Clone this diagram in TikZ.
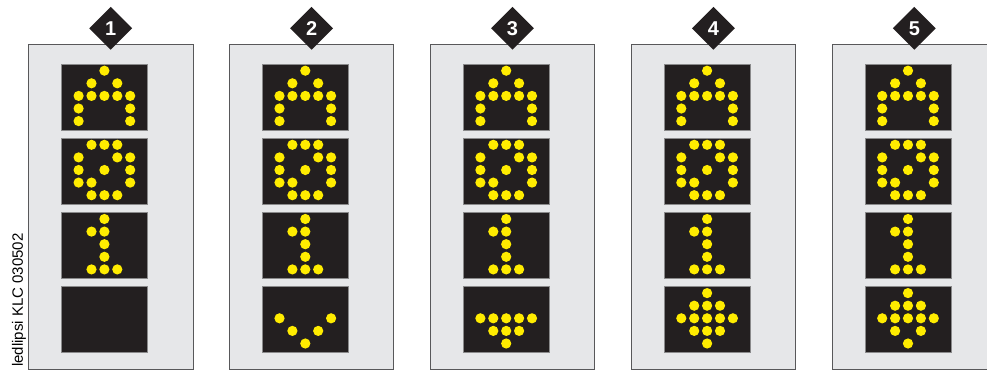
\documentclass[tikz,border=0pt]{standalone}
\usepackage{fontspec}
\setmainfont{Liberation Sans}
\usetikzlibrary{calc,positioning,shapes.geometric}
\definecolor{panelgray}{RGB}{230,231,233}
\definecolor{framegray}{RGB}{88,88,90}
\definecolor{screen}{RGB}{35,31,32}
\definecolor{ledyellow}{RGB}{255,236,0}

% lit LEDs of one display: #1 = display node, #2 = list of col/row
\newcommand{\leds}[2]{%
  \foreach \c/\r in {#2}
    \fill[ledyellow] ($(#1.north west)+(17.6+12.9*\c,7+12.6*\r)$) circle (5.1pt);}

\begin{document}
\begin{tikzpicture}[x=1pt, y=-1pt,
  panel/.style={draw=framegray, fill=panelgray, line width=0.9pt, anchor=north west, inner sep=0pt, minimum width=164.5pt, minimum height=325pt},
  lcd/.style={fill=screen, draw=framegray!70, line width=0.4pt, anchor=north west, inner sep=0pt, minimum width=86pt, minimum height=66pt},
  badge/.style={diamond, aspect=1, fill=screen, inner sep=0pt, minimum width=43pt, minimum height=43pt, text=white, font=\fontsize{20}{20}\selectfont\bfseries},
]
\path[use as bounding box, clip] (0,0) rectangle (987,371);

% panels, badges and the four displays
\foreach \i in {1,...,5} {
  \node[panel] (p\i) at ({28+200.9*(\i-1)},44.3) {};
  \node[badge] (n\i) at ($(p\i.north)+(0,-16)$) {\i};
  \foreach \k/\dy in {a/19.4, b/93.5, c/167.7, d/241.8}
    \node[lcd] (s\i\k) at ($(p\i.north west)+(33,\dy)$) {};
  \leds{s\i a}{2/0, 1/1, 3/1, 0/2, 1/2, 2/2, 3/2, 4/2, 0/3, 4/3, 0/4, 4/4}
  \leds{s\i b}{1/0, 2/0, 3/0, 0/1, 3/1, 4/1, 0/2, 2/2, 4/2, 0/3, 1/3, 4/3, 1/4, 2/4, 3/4}
  \leds{s\i c}{2/0, 1/1, 2/1, 2/2, 2/3, 1/4, 2/4, 3/4}
}

% bottom displays differ
\leds{s2d}{0/2, 4/2, 1/3, 3/3, 2/4}
\leds{s3d}{0/2, 1/2, 2/2, 3/2, 4/2, 1/3, 2/3, 3/3, 2/4}
\leds{s4d}{2/0, 1/1, 2/1, 3/1, 0/2, 1/2, 2/2, 3/2, 4/2, 1/3, 2/3, 3/3, 2/4}
\leds{s5d}{2/0, 1/1, 2/1, 3/1, 0/2, 1/2, 2/2, 3/2, 4/2, 1/3, 3/3, 2/4}

\node[rotate=90, anchor=base west, inner sep=0pt, font=\fontsize{15}{15}\selectfont] (stamp) at (23,367) {ledlipsi KLC 030502};
\end{tikzpicture}
\end{document}
